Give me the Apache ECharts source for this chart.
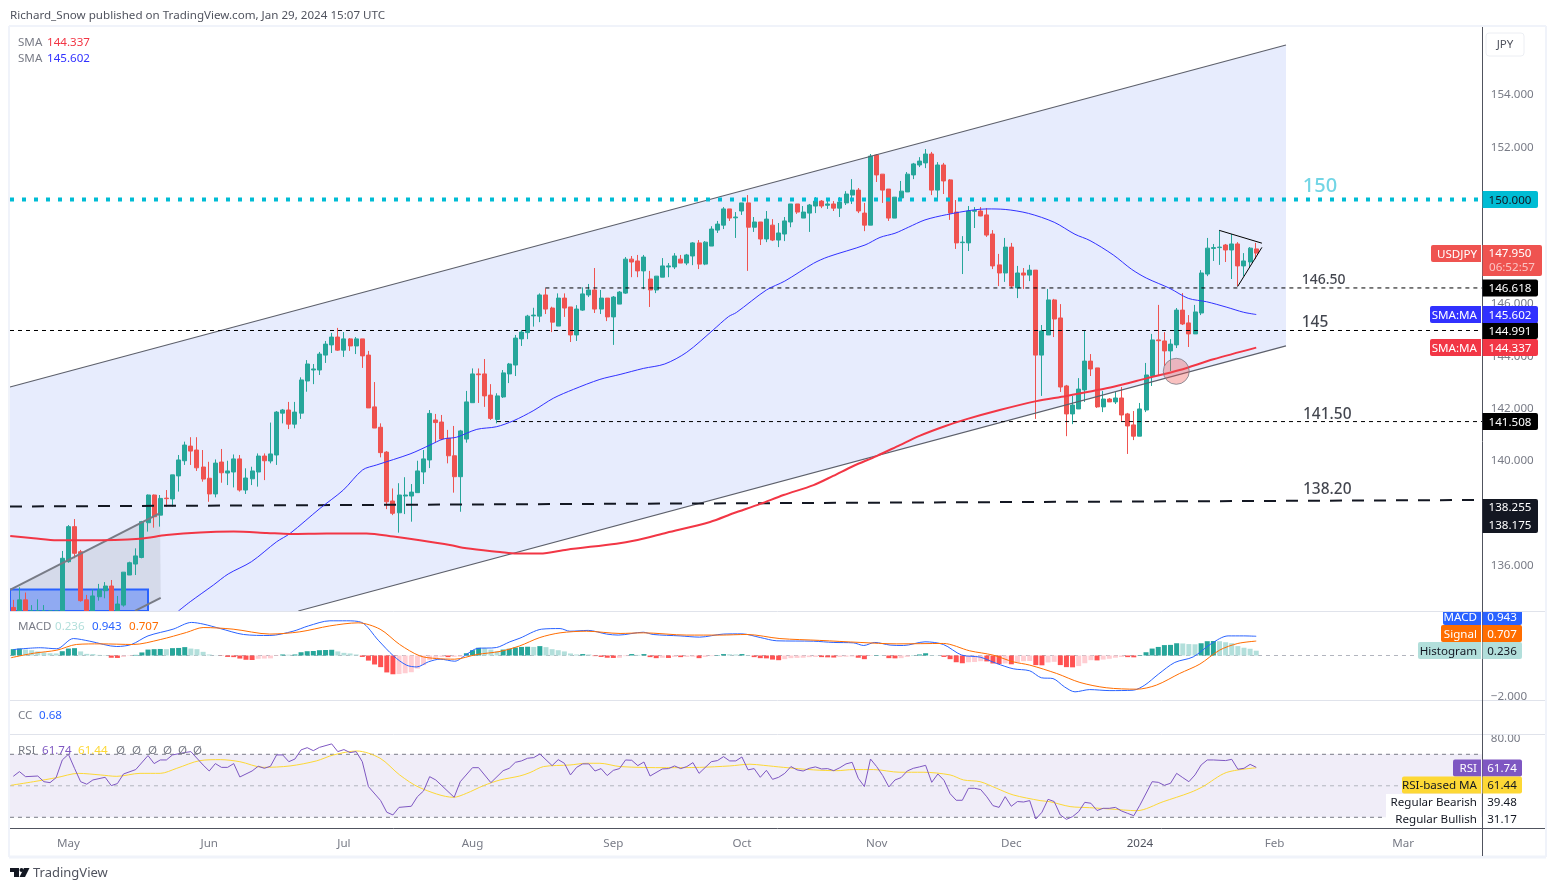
<!DOCTYPE html>
<html>
<head>
    <title>USDJPY daily</title>
    <script src="https://cdn.jsdelivr.net/npm/echarts@6/dist/echarts.min.js"></script>
    <style>
        html, body { margin: 0; padding: 0; background: #fff; overflow: hidden; }
        #chart { width: 1556px; height: 891px; }
    </style>
</head>
<body>
    <div id="chart"></div>
    <script>
        // daily candles
        const opens = [134.40,134.00,134.69,134.00,133.60,134.10,133.80,134.00,134.00,136.15,137.49,136.53,134.69,134.00,134.81,135.04,135.22,134.10,134.49,135.64,
            136.06,136.31,137.64,138.70,137.93,138.58,138.55,139.43,140.01,140.57,140.42,139.77,139.34,138.74,139.96,139.54,139.58,140.08,138.89,139.32,
            139.58,140.19,140.00,140.23,141.83,141.95,141.41,141.83,143.06,143.48,143.48,144.05,144.44,144.74,144.24,144.67,144.40,144.67,144.05,142.07,
            141.29,140.34,138.47,138.02,138.66,138.66,138.79,139.58,140.04,141.57,141.49,140.87,140.20,139.40,140.84,142.23,143.33,143.33,142.52,141.59,
            142.45,143.33,143.67,144.67,144.91,145.55,145.54,146.35,145.85,145.16,146.23,145.89,144.82,145.77,146.35,146.54,145.81,146.23,145.51,146.00,
            146.42,147.72,147.65,147.27,146.96,146.54,147.03,147.42,147.42,147.72,147.57,147.84,148.34,147.53,148.22,148.83,149.02,149.64,149.30,149.56,
            149.87,148.94,149.14,148.49,149.02,148.45,148.68,149.14,149.83,149.29,149.48,149.75,149.94,149.78,149.83,149.67,149.87,150.17,150.36,149.48,
            149.02,151.70,150.97,150.40,149.29,150.06,150.29,150.94,151.32,151.40,151.74,150.36,151.32,150.75,149.52,148.35,148.34,149.55,149.56,149.41,
            148.68,147.50,147.19,148.18,146.62,147.19,147.11,147.30,144.05,144.82,146.16,145.47,142.87,141.80,141.99,142.72,143.82,143.56,142.07,142.37,
            142.26,142.41,141.80,141.38,140.95,141.95,143.25,144.63,144.59,144.21,144.44,145.77,145.28,144.86,145.66,147.15,148.13,148.16,148.26,148.07,
            148.30,147.46,147.61,148.11];
        const closes = [134.20,134.69,133.90,133.70,134.10,133.80,134.10,134.20,136.28,137.49,136.47,134.66,134.00,134.84,135.07,135.22,134.10,134.53,135.75,136.11,
            136.37,137.68,138.70,137.87,138.57,138.56,139.47,140.04,140.61,140.38,139.74,139.31,138.74,139.92,139.55,139.62,140.08,138.89,139.35,139.62,
            140.19,140.01,140.27,141.87,141.95,141.41,141.87,143.10,143.71,143.52,144.09,144.47,144.74,144.24,144.67,144.40,144.67,144.02,142.03,141.26,
            140.32,138.44,138.00,138.70,138.70,138.81,139.62,140.08,141.82,141.47,140.84,140.20,139.40,141.15,142.26,143.33,143.30,142.49,141.63,142.49,
            143.37,143.71,144.70,144.93,145.54,145.58,146.35,145.81,145.31,146.23,145.85,144.82,145.81,146.39,146.54,145.81,146.23,145.51,146.27,146.46,
            147.72,147.61,147.27,147.80,146.54,147.07,147.46,147.46,147.84,147.57,147.88,148.34,147.53,148.37,148.87,149.06,149.64,149.29,149.33,149.87,
            148.94,149.14,148.49,149.25,148.45,148.72,149.18,149.83,149.52,149.52,149.79,149.94,149.75,149.83,149.67,149.90,150.21,150.36,149.56,149.02,
            151.66,150.94,150.36,149.29,150.09,150.32,150.97,151.36,151.47,151.74,150.36,151.32,150.71,149.48,148.34,148.37,149.56,149.58,149.37,148.64,
            147.46,147.19,148.18,146.69,147.19,147.11,147.30,144.05,144.97,146.16,145.43,142.83,141.80,142.14,142.75,143.82,143.52,142.07,142.37,142.26,
            142.41,141.76,141.34,140.95,141.99,143.29,144.63,144.60,144.21,144.47,145.77,145.24,144.86,145.70,147.19,148.14,148.16,148.18,148.07,148.30,
            147.46,147.65,148.14,147.95];
        const lows = [133.90,133.70,133.60,133.50,133.40,133.50,133.50,133.70,133.80,136.11,136.28,134.62,133.70,133.80,134.66,134.75,133.90,133.90,134.43,135.64,
            135.64,136.28,137.30,137.45,137.49,138.25,138.25,138.83,139.85,139.85,139.62,139.21,138.44,138.61,139.17,139.08,138.99,138.83,138.74,139.08,
            139.02,139.27,139.91,139.85,141.44,141.22,141.25,141.61,142.65,142.94,143.29,143.75,144.13,144.21,143.98,144.21,144.09,143.56,142.03,141.26,
            140.14,138.16,137.93,137.26,137.97,137.68,138.79,139.12,139.73,140.71,140.80,139.91,138.79,138.06,140.70,142.23,142.22,142.07,141.57,141.44,
            142.41,142.98,143.25,144.40,144.66,145.14,145.31,145.62,144.93,145.16,145.51,144.55,144.59,145.74,146.27,145.66,145.62,145.35,144.44,146.00,
            146.39,147.03,147.03,146.57,145.89,146.42,147.03,147.03,147.34,147.57,147.49,147.49,147.34,147.49,148.22,148.72,148.87,149.18,148.53,149.41,
            147.27,148.76,148.26,148.37,148.41,148.18,148.41,148.94,149.45,149.29,148.76,149.48,149.67,149.64,149.56,149.33,149.79,149.83,149.48,148.79,
            149.02,150.67,149.87,149.18,149.29,150.06,150.29,150.78,151.24,151.20,150.17,150.06,150.21,149.22,148.11,147.15,148.03,148.91,149.36,148.57,
            147.34,146.69,146.85,146.62,146.23,146.58,146.88,141.61,142.49,144.82,144.74,142.64,140.95,141.41,141.99,142.26,143.25,142.03,141.87,142.26,
            142.18,141.53,140.27,140.80,140.95,141.87,142.87,143.25,143.63,143.44,144.32,145.20,144.36,144.86,145.58,147.07,147.65,147.50,147.61,146.96,
            146.69,147.07,147.42,147.72];
        const highs = [134.69,135.17,134.97,134.49,134.71,134.49,134.20,134.25,136.56,137.55,137.78,136.60,134.88,135.10,135.30,135.37,135.45,134.84,135.75,136.15,
            136.66,137.71,138.72,138.72,138.70,138.89,139.47,140.23,140.74,140.91,140.91,140.42,139.97,140.06,140.46,140.01,140.25,140.23,139.72,139.78,
            140.29,140.29,141.47,141.91,141.99,142.26,142.26,143.20,143.86,143.71,144.17,144.59,144.90,145.09,144.93,144.70,144.74,144.67,144.21,143.02,
            141.44,140.38,138.95,139.15,139.38,139.12,140.01,140.42,141.95,141.80,141.76,141.19,141.34,141.19,142.68,143.54,143.54,143.90,142.94,142.59,
            143.48,143.75,144.82,145.01,145.59,145.86,146.41,146.60,145.90,146.41,146.41,145.89,145.96,146.64,146.77,147.38,146.54,146.23,146.31,146.50,
            147.80,147.84,147.88,147.88,147.27,147.07,147.76,147.57,147.95,147.88,147.92,148.37,148.45,148.41,148.98,149.18,149.71,149.64,149.52,149.87,
            150.17,149.33,149.14,149.56,149.25,149.10,149.33,149.83,149.83,149.75,149.83,150.09,149.98,149.98,149.94,150.09,150.32,150.78,150.44,149.87,
            151.74,151.74,150.97,150.40,150.09,150.71,151.05,151.40,151.62,151.93,151.82,151.43,151.40,150.78,149.98,148.60,149.75,149.71,149.71,149.67,
            148.83,147.92,148.53,148.34,147.46,147.38,147.50,147.30,145.20,146.58,146.20,146.00,142.91,142.49,143.17,144.97,144.09,143.56,142.68,142.41,
            142.64,142.83,141.84,141.91,142.22,143.75,144.86,145.97,144.93,144.66,145.85,146.42,145.58,145.97,147.30,148.53,148.30,148.82,148.30,148.68,
            148.37,147.95,148.18,148.34];

        // moving averages, [bar, value]
        const sma50 = [[26.95,134.26],[28.9,134.62],[32.7,135.26],[35.1,135.68],[38.9,136.15],[43,136.91],[45.2,137.23],[50.1,138.19],[53.9,138.89],[57.05,139.66],[59.35,139.85],[64.8,140.27],[68.05,140.61],[70.2,140.84],[72.4,140.91],[75.7,141.21],[78.9,141.31],[81.7,141.54],[84.9,141.92],[88.2,142.40],[91.5,142.74],[95.8,143.12],[99.1,143.31],[102.9,143.54],[106.4,143.71],[110,144.16],[114.3,145.01],[116.8,145.52],[118.1,145.68],[123,146.54],[126,146.88],[130.7,147.56],[133.1,147.81],[139.1,148.26],[141.55,148.55],[144,148.71],[146.2,148.94],[148.9,149.22],[152.4,149.42],[156.8,149.60],[159,149.64],[162,149.62],[165.8,149.47],[170,149.13],[173.4,148.67],[175.85,148.43],[179.65,147.88],[182.65,147.33],[185.1,146.99],[188.9,146.60],[191.9,146.22],[194.9,146.09],[198.2,145.88],[200.9,145.69],[203,145.602]];
        const sma200 = [[-0.5,137.13],[3.3,137.05],[7.1,136.97],[12,136.97],[20.7,137.03],[25,137.17],[30.5,137.27],[36,137.30],[41.4,137.25],[45.2,137.21],[51.2,137.23],[57.7,137.23],[62.1,137.11],[66.4,136.97],[71.3,136.79],[74,136.66],[79.5,136.52],[82.2,136.46],[86,136.46],[90.4,136.61],[98.5,136.84],[101.3,136.95],[106.7,137.26],[113.8,137.67],[117.6,138.00],[122,138.36],[125.8,138.70],[130.7,139.08],[133.9,139.43],[137.2,139.81],[141,140.19],[144.8,140.61],[148.1,140.97],[151.9,141.31],[155.7,141.60],[161.1,141.95],[167.1,142.29],[172,142.49],[179.7,142.84],[185.1,143.16],[190.5,143.48],[196,143.89],[203,144.337]];

        // MACD pane
        const macdHist = [.31,.34,.29,.26,.20,.15,.11,.10,.21,.34,.36,.20,.08,.07,.03,.02,-.11,-.12,-.07,-.02,.03,.15,.29,.31,.32,.31,.36,.37,.41,.34,.31,.18,.05,.01,-.01,-.07,-.08,-.15,-.21,-.22,-.16,-.15,-.14,-.02,.05,.04,.05,.16,.21,.22,.26,.27,.28,.20,.13,.10,.05,-.07,-.25,-.44,-.57,-.83,-.92,-.91,-.87,-.82,-.64,-.47,-.23,-.15,-.07,-.08,-.07,-.06,.11,.26,.38,.37,.29,.20,.29,.33,.39,.42,.43,.42,.46,.41,.31,.26,.20,.10,.05,.07,.05,-.03,-.07,-.11,-.12,-.11,-.03,.07,.03,.07,-.08,-.13,-.11,-.12,-.07,-.08,-.07,-.06,-.13,-.07,-.03,.02,.07,.06,.05,.07,.02,-.08,-.13,-.14,-.20,-.23,-.18,-.13,-.12,-.11,-.08,-.07,-.08,-.09,-.10,-.07,-.06,-.05,-.11,-.18,-.02,.02,.01,-.13,-.14,-.13,-.07,.01,.05,.11,.02,.01,-.07,-.18,-.33,-.38,-.33,-.32,-.28,-.29,-.39,-.42,-.39,-.43,-.33,-.28,-.27,-.47,-.48,-.34,-.31,-.47,-.57,-.58,-.52,-.38,-.23,-.24,-.20,-.16,-.11,-.07,-.08,-.09,.02,.16,.34,.42,.51,.52,.60,.59,.56,.55,.60,.70,.71,.70,.65,.60,.46,.38,.33,.236];
        const macdLine = [[0,.29],[4.4,.38],[7.1,.33],[9.8,.83],[12.5,.70],[16.9,.44],[19.3,.54],[22,.96],[26.1,1.29],[29.1,1.62],[31,1.54],[33.8,1.32],[37.6,1.03],[41.9,.98],[45.7,1.19],[48.2,1.45],[51.7,1.70],[54.4,1.70],[56.9,1.62],[59.6,.75],[62.1,-.02],[64.2,-.47],[65.9,-.56],[67.8,-.31],[69.7,-.18],[72.1,-.28],[74,.05],[75.7,.34],[78.9,.39],[81.1,.67],[82.75,.85],[86.3,1.29],[89.3,1.32],[90.9,1.19],[93.9,1.23],[96.9,1.05],[98.8,1.00],[102.9,1.14],[104.5,1.03],[108.9,.96],[112.1,.90],[116,1.05],[119,1.06],[122,.88],[124.7,.72],[130.7,.70],[133.9,.64],[137.2,.62],[138.9,.49],[140.7,.64],[143.2,.51],[145.4,.49],[148.9,.67],[151.9,.54],[154.9,.02],[157.9,-.08],[160.6,-.39],[163.3,-.65],[166,-.75],[167.9,-1.09],[169.8,-1.13],[171.7,-1.54],[173.4,-1.78],[175.8,-1.67],[179.1,-1.72],[182.9,-1.70],[184.8,-1.45],[187,-.92],[189.7,-.34],[192.7,-.07],[195.7,.59],[198.4,.96],[200.9,.96],[203,.943]];
        const macdSignal = [[-.4,-.11],[3.3,.11],[7.1,.26],[10.3,.54],[14.2,.57],[19.6,.54],[24,.78],[28.3,1.13],[31,1.37],[35.9,1.29],[41.9,1.05],[46.8,1.16],[51.7,1.45],[56.3,1.60],[59.9,1.29],[63.1,.54],[66.4,-.02],[69.1,-.15],[72.1,-.18],[75.7,.05],[79.5,.20],[82.7,.47],[86,.88],[89.3,1.11],[93.6,1.19],[99.1,1.08],[102.9,1.11],[110,1.00],[115.4,1.00],[119.8,1.03],[125.2,.83],[131.7,.74],[138.3,.64],[144.3,.57],[151.9,.59],[156.2,.23],[160,.02],[163.3,-.31],[166,-.47],[170.4,-.88],[174.2,-1.32],[178.5,-1.58],[183.5,-1.65],[186.7,-1.45],[190.5,-.88],[193.8,-.42],[197,.26],[200,.59],[203,.707]];

        // RSI pane
        const rsiLine = [[0,56.03],[1,59],[2,55.8],[4,56.2],[5,52.6],[6,52],[7,55.2],[8,66.4],[9,70],[10,61.1],[11,52.6],[12,51],[13,53.7],[15,55.4],[16,50.1],[17,51.4],[18,57.5],[20,60.3],[22,69.2],[23,64.1],[24,66.4],[25,66.4],[26,69.6],[28,71.1],[29,71.7],[31,63.2],[32,59.4],[33,64.1],[34,61.7],[35,61.7],[36,64.1],[37,55.6],[39,59.4],[40,62.4],[41,61.1],[42,62.4],[43,69.6],[44,69.6],[45,65.3],[46,67],[47,72.8],[48,74.2],[49,72.3],[50,74.4],[52,76.6],[53,71.7],[54,73],[55,71.1],[56,71.7],[57,65.3],[58,49.5],[60,40.6],[61,33.2],[62,31.5],[63,36.3],[65,37],[66,43.1],[67,46.7],[68,55.8],[69,53.7],[72,42.7],[73,52.6],[75,61.5],[76,61.5],[78,52],[80,59.6],[81,61.1],[82,64.9],[83,65.8],[84,67.5],[85,67.9],[86,70.2],[88,62.8],[89,66.6],[90,64.3],[91,56.9],[92,61.7],[93,63.9],[94,63.9],[95,59.4],[96,60.9],[97,56.5],[98,59.8],[99,60.9],[100,66.4],[101,66.2],[102,62.8],[103,65.1],[104,56.2],[106,60.7],[107,60.9],[108,62.6],[109,60.9],[110,62.2],[111,64.7],[112,57.9],[114,65.3],[115,66],[116,68.5],[117,65.8],[118,65.8],[119,68.3],[120,60.1],[121,60.9],[122,55.4],[123,59.8],[124,54.1],[125,55.4],[126,57.9],[127,62.2],[128,60.1],[129,59.4],[130,61.1],[131,62],[132,60.7],[133,60.9],[134,59.6],[135,61.5],[136,63.9],[137,64.9],[138,54.8],[139,49.5],[140,67],[141,62.2],[142,56.5],[143,49.3],[144,53.7],[145,55.2],[146,59.4],[147,61.1],[148,62],[149,63],[150,52.2],[151,57.5],[152,53.5],[153,45],[154,40.8],[155,40.8],[156,48.4],[157,48.4],[158,47.6],[159,43],[160,37.4],[161,36.3],[162,43.1],[163,37],[164,40],[165,39.7],[166,40.6],[167,28.9],[168,33.2],[169,41.4],[170,40],[171,31.5],[172,28.7],[173,30.4],[174,33.6],[175,39.5],[176,38.9],[177,34.3],[178,35.7],[179,35.7],[180,36.3],[181,34],[182,32.5],[183,31],[184,37.7],[186,52.6],[187,52.2],[188,50.3],[189,51.6],[190,57.9],[191,55.2],[192,52.6],[193,56.9],[194,63.2],[195,66.4],[196,66.4],[198,66],[199,66.8],[200,60.5],[201,61.1],[202,63.6],[203,61.74]];
        const rsiMa = [[-.4,50.3],[3.3,52.6],[7.1,55.2],[10.6,57.9],[14.2,56.9],[16.9,56],[20.7,57.9],[24,57.9],[26.7,61.1],[30.5,66],[33.8,66.6],[37,65.3],[40.8,61.7],[45.2,62.6],[49.5,65.8],[52.3,69.6],[56.1,72.1],[59.9,67.5],[63.1,56.9],[66.4,48.8],[71.9,42.7],[74,45.2],[76.8,50.1],[79.5,53.7],[82.7,56.2],[84.4,58.4],[86.6,62.2],[90.9,63.2],[93.6,64.3],[95.8,64.3],[99.1,62.2],[106.7,61.5],[112.1,61.7],[117,62.6],[120.3,63.7],[122.5,63],[125.8,61.7],[130.7,60.1],[134.5,59.6],[137.2,60.3],[140.5,60.3],[144.8,58.6],[148.6,58.6],[153,56.9],[155.2,53.7],[157.9,52.6],[160.6,48.4],[163.3,44.2],[167.7,40.6],[169.3,39.9],[172.6,36.8],[175.8,36.1],[179.1,35.3],[183.5,34.2],[187.8,39.9],[192.2,45.7],[194.3,49.5],[198.1,58.4],[203,61.44]];

        // drawings on the price pane, [bar, price]
        const channelShape = [[-.54,142.83],[207.86,155.91],[207.86,144.40],[46.55,134.265],[-.54,134.265]];
        const channelTop = [[-.54,142.83],[207.86,155.91]];
        const channelBottom = [[46.55,134.265],[207.86,144.40]];
        const smallChannelShape = [[-.54,135.07],[23.96,138.01],[24.07,134.77],[19.88,134.265],[-.54,134.265]];
        const smallChannelTop = [[-.54,135.07],[23.96,138.01]];
        const smallChannelBottom = [[19.88,134.265],[24.07,134.77]];
        const blueBox = [[-.54,135.09],[22,135.09],[22,134.265],[-.54,134.265]];
        const level150 = [[-.54,150],[239.86,150]];
        const level14650 = [[86.9,146.618],[239.86,146.618]];
        const level145 = [[-.54,144.991],[239.86,144.991]];
        const level14150 = [[79,141.508],[239.86,141.508]];
        const level13820 = [[-.54,138.26],[239.86,138.51]];
        const pennantTop = [[196.96,148.82],[203.93,148.33]];
        const pennantBottom = [[199.96,146.67],[203.93,148.17]];
        const touchCircle = [[189.94,143.43]];
        const levelNotes = [[213.4,150.55,'150'],[214.0,146.96,'146.50'],[212.6,145.32,'145'],[214.6,141.80,'141.50'],[214.6,138.93,'138.20']];

        // RSI bands and zero line
        const rsiBand = [[-.54,70],[239.86,70],[239.86,30],[-.54,30]];
        const rsiUpper = [[-.54,70],[239.86,70]];
        const rsiMiddle = [[-.54,50],[239.86,50]];
        const rsiLower = [[-.54,30],[239.86,30]];
        const macdZero = [[-.54,0],[239.86,0]];

        // time axis
        const barCount = 241;
        const monthBars = [9,32,54,75,98,119,141,163,184,206,227];
        const monthNames = ['May','Jun','Jul','Aug','Sep','Oct','Nov','Dec','2024','Feb','Mar'];
        const categories = [];
        for (let i = 0; i < barCount; i++) {
            const m = monthBars.indexOf(i);
            categories.push(m >= 0 ? monthNames[m] : String(i));
        }

        const FONT = '"Noto Sans", sans-serif';
        const SIZE = 11.6;
        const GREY = '#787b86';
        const PRICE_MIN = 134.264;
        const chart = echarts.init(document.getElementById('chart'));

        const gridX = { left: 10.24, width: 1475.6 };

        function lineSeries(points, axis, color, width, type, extra) {
            return Object.assign({
                type: 'line',
                xAxisIndex: axis * 2 + 1,
                yAxisIndex: axis,
                data: points,
                symbol: 'none',
                silent: true,
                z: 6,
                lineStyle: { color: color, width: width, type: type || 'solid' }
            }, extra || {});
        }

        function shapeSeries(points, axis, fill, stroke, z) {
            return {
                type: 'custom',
                xAxisIndex: axis * 2 + 1,
                yAxisIndex: axis,
                data: [points[0]],
                silent: true,
                z: z,
                renderItem: function (params, api) {
                    return {
                        type: 'polygon',
                        shape: { points: points.map(function (p) { return api.coord(p); }) },
                        style: { fill: fill, stroke: stroke || null, lineWidth: 2 }
                    };
                }
            };
        }

        const axisLabelBase = { margin: 5, color: GREY, fontSize: SIZE, fontFamily: FONT, padding: [2, 0, 0, 0] };

        const option = {
            animation: false,
            textStyle: { fontFamily: FONT },
            grid: [
                Object.assign({ top: 27, height: 584 }, gridX),
                Object.assign({ top: 611, height: 89 }, gridX),
                Object.assign({ top: 735, height: 93 }, gridX)
            ],
            xAxis: [
                { type: 'category', gridIndex: 0, data: categories, show: false },
                { type: 'value', gridIndex: 0, min: -0.5, max: barCount - 0.5, show: false },
                { type: 'category', gridIndex: 1, data: categories, show: false },
                { type: 'value', gridIndex: 1, min: -0.5, max: barCount - 0.5, show: false },
                {
                    type: 'category', gridIndex: 2, data: categories,
                    axisLine: { show: false }, axisTick: { show: false },
                    axisLabel: {
                        margin: 6,
                        fontSize: SIZE,
                        fontFamily: FONT,
                        color: function (v) { return v === '2024' ? '#50535e' : GREY; },
                        interval: function (index) { return monthBars.indexOf(index) >= 0; }
                    }
                },
                { type: 'value', gridIndex: 2, min: -0.5, max: barCount - 0.5, show: false }
            ],
            yAxis: [
                {
                    type: 'value', gridIndex: 0, position: 'right', min: PRICE_MIN, max: 156.597,
                    axisLine: { show: false }, axisTick: { show: false }, splitLine: { show: false },
                    axisLabel: Object.assign({
                        customValues: [136,138,140,142,144,146,148,150,152,154],
                        formatter: function (v) { return v.toFixed(3); }
                    }, axisLabelBase)
                },
                {
                    type: 'value', gridIndex: 1, position: 'right', min: -2.18, max: 2.18,
                    axisLine: { show: false }, axisTick: { show: false }, splitLine: { show: false },
                    axisLabel: Object.assign({
                        customValues: [-2,0],
                        formatter: function (v) { return v.toFixed(3).replace('-', '\u2212'); }
                    }, axisLabelBase)
                },
                {
                    type: 'value', gridIndex: 2, position: 'right', min: 23.2, max: 82.25,
                    axisLine: { show: false }, axisTick: { show: false }, splitLine: { show: false },
                    axisLabel: Object.assign({
                        customValues: [80],
                        formatter: function (v) { return v.toFixed(2); }
                    }, axisLabelBase)
                }
            ],
            series: [
                shapeSeries(channelShape, 0, '#e7ecfd', null, 1),
                shapeSeries(smallChannelShape, 0, 'rgba(120,123,134,0.16)', null, 2),
                shapeSeries(blueBox, 0, 'rgba(41,98,255,0.4)', '#2962ff', 2),
                {
                    type: 'candlestick',
                    xAxisIndex: 0,
                    yAxisIndex: 0,
                    barWidth: 4.5,
                    z: 5,
                    silent: true,
                    // the first bars run below the pane in the picture, so stop them at its floor
                    data: opens.map(function (o, i) {
                        return [o, closes[i], lows[i], highs[i]].map(function (v) { return Math.max(v, PRICE_MIN); });
                    }),
                    itemStyle: { color: '#26a69a', color0: '#ef5350', borderColor: '#26a69a', borderColor0: '#ef5350', borderWidth: 1 }
                },
                lineSeries(channelTop, 0, '#5d606b', 1.2),
                lineSeries(channelBottom, 0, '#5d606b', 1.2),
                lineSeries(smallChannelTop, 0, '#787b86', 2),
                lineSeries(smallChannelBottom, 0, '#787b86', 2),
                lineSeries(level150, 0, '#00bcd4', 4, [4, 8]),
                lineSeries(level14650, 0, '#000000', 1, [4, 4]),
                lineSeries(level145, 0, '#000000', 1, [4, 4]),
                lineSeries(level14150, 0, '#000000', 1, [4, 4]),
                lineSeries(level13820, 0, '#131722', 2, [12, 10]),
                lineSeries(pennantTop, 0, '#000000', 1),
                lineSeries(pennantBottom, 0, '#000000', 1),
                lineSeries(sma50, 0, '#3131ff', 1, 'solid', { smooth: 0.3 }),
                lineSeries(sma200, 0, '#f23645', 2, 'solid', { smooth: 0.3 }),
                {
                    type: 'scatter',
                    xAxisIndex: 1,
                    yAxisIndex: 0,
                    data: touchCircle,
                    symbolSize: 26,
                    silent: true,
                    z: 8,
                    itemStyle: { color: 'rgba(239,83,80,0.45)', borderColor: '#787b86', borderWidth: 1 }
                },
                {
                    type: 'scatter',
                    xAxisIndex: 1,
                    yAxisIndex: 0,
                    data: levelNotes,
                    symbolSize: 1,
                    silent: true,
                    z: 8,
                    itemStyle: { color: 'transparent' },
                    label: {
                        show: true,
                        position: 'inside',
                        fontFamily: FONT,
                        fontSize: 15,
                        color: '#131722',
                        padding: [2, 0, 0, 0],
                        formatter: function (p) {
                            if (p.data[2] === '150') return '{big|150}';
                            return p.data[2] === '146.50' ? '{mid|146.50}' : '{large|' + p.data[2] + '}';
                        },
                        rich: {
                            big: { fontSize: 20, fontWeight: 500, color: '#4fcbdf', fontFamily: FONT },
                            mid: { fontSize: 14, fontWeight: 500, color: '#131722', fontFamily: FONT },
                            large: { fontSize: 15.5, fontWeight: 500, color: '#131722', fontFamily: FONT }
                        }
                    }
                },

                lineSeries(macdZero, 1, '#b2b5be', 1, [4, 4], { z: 1 }),
                {
                    type: 'bar',
                    xAxisIndex: 2,
                    yAxisIndex: 1,
                    barWidth: 5,
                    silent: true,
                    z: 3,
                    data: macdHist,
                    itemStyle: {
                        color: function (p) {
                            const prev = p.dataIndex ? macdHist[p.dataIndex - 1] : 0;
                            if (p.value >= 0) return p.value >= prev ? '#26a69a' : '#b2dfdb';
                            return p.value <= prev ? '#ff5252' : '#ffcdd2';
                        }
                    }
                },
                lineSeries(macdLine, 1, '#2962ff', 1, 'solid', { smooth: 0.3 }),
                lineSeries(macdSignal, 1, '#ff6d00', 1, 'solid', { smooth: 0.3 }),

                shapeSeries(rsiBand, 2, '#f0edf8', null, 1),
                lineSeries(rsiUpper, 2, '#787b86', 1, [4, 4], { z: 2 }),
                lineSeries(rsiMiddle, 2, '#b2b5be', 1, [4, 4], { z: 2 }),
                lineSeries(rsiLower, 2, '#787b86', 1, [4, 4], { z: 2 }),
                lineSeries(rsiMa, 2, '#fdd835', 1, 'solid', { smooth: 0.3 }),
                lineSeries(rsiLine, 2, '#7e57c2', 1)
            ]
        };

        chart.setOption(option);

        // page frame, pane legends and price tags
        function label(x, y, text, color, align, size) {
            return {
                type: 'text', z: 100, silent: true,
                style: {
                    x: x, y: y + 1, text: text, fill: color || '#50535e',
                    font: (size || SIZE) + 'px ' + FONT,
                    textAlign: align || 'left', textVerticalAlign: 'middle'
                }
            };
        }

        function box(x0, y0, x1, y1, fill, r, z) {
            return {
                type: 'rect', z: z === undefined ? 99 : z, silent: true,
                shape: { x: x0, y: y0, width: x1 - x0, height: y1 - y0, r: r || 0 },
                style: { fill: fill }
            };
        }

        function rule(x0, y0, x1, y1, color, width) {
            return {
                type: 'line', z: 90, silent: true,
                shape: { x1: x0, y1: y0, x2: x1, y2: y1 },
                style: { stroke: color, lineWidth: width || 1 }
            };
        }

        function valueTag(cy, value, bg, fg) {
            return [box(1482.5, cy - 8.5, 1538, cy + 8.5, bg, [0, 2, 2, 0]), label(1510, cy, value, fg || '#fff', 'center')];
        }

        function nameTag(cy, name, x0, bg, fg) {
            return [box(x0, cy - 8.5, 1481, cy + 8.5, bg, [2, 0, 0, 2]), label(1477, cy, name, fg || '#fff', 'right')];
        }

        function yOf(p) { return chart.convertToPixel({ yAxisIndex: 0 }, p); }

        const elements = [];
        elements.push(
            rule(9, 26, 1546, 26, '#f0f3fa', 2),
            rule(9, 26, 9, 857, '#f0f3fa', 2),
            rule(1546, 26, 1546, 857, '#f0f3fa', 2),
            rule(9, 857, 1546, 857, '#f0f3fa', 3),
            rule(10, 611.5, 1545, 611.5, '#e0e3eb'),
            rule(10, 700.5, 1545, 700.5, '#e0e3eb'),
            rule(10, 734.5, 1545, 734.5, '#e0e3eb'),
            rule(10, 828.5, 1545, 828.5, '#50535e'),
            rule(1482.5, 27, 1482.5, 856, '#50535e')
        );

        elements.push(label(10, 14.5, 'Richard_Snow published on TradingView.com, Jan 29, 2024 15:07 UTC', '#50535e'));
        elements.push(
            label(18, 41.5, 'SMA', '#787b86'), label(47, 41.5, '144.337', '#f23645'),
            label(18, 58, 'SMA', '#787b86'), label(47, 58, '145.602', '#3131ff'),
            label(18, 626, 'MACD', '#787b86'), label(55, 626, '0.236', '#b2dfdb'), label(92, 626, '0.943', '#2962ff'), label(129, 626, '0.707', '#ff6d00'),
            label(18, 715, 'CC', '#787b86'), label(39, 715, '0.68', '#2962ff'),
            label(18, 749.5, 'RSI', '#787b86'), label(42, 749.5, '61.74', '#7e57c2'), label(78, 749.5, '61.44', '#fdd835')
        );
        [116, 132, 148, 163, 178, 193].forEach(function (x) {
            elements.push(label(x, 749.5, '\u00d8', '#787b86'));
        });

        // JPY currency button
        elements.push({
            type: 'rect', z: 95, silent: true,
            shape: { x: 1486, y: 33, width: 38, height: 23, r: 3 },
            style: { fill: '#fff', stroke: '#eceef3' }
        });
        elements.push(label(1505, 43.5, 'JPY', '#50535e', 'center'));

        // price tags
        elements.push(...valueTag(yOf(150), '150.000', '#00bcd4', '#131722'));
        elements.push(...valueTag(yOf(146.618), '146.618', '#000'));
        elements.push(...valueTag(yOf(144.991), '144.991', '#000'));
        elements.push(...valueTag(yOf(141.508), '141.508', '#000'));
        elements.push(...nameTag(yOf(145.602), 'SMA:MA', 1430, '#3131ff'));
        elements.push(...valueTag(yOf(145.602), '145.602', '#3131ff'));
        elements.push(...nameTag(yOf(144.337), 'SMA:MA', 1430, '#f23645'));
        elements.push(...valueTag(yOf(144.337), '144.337', '#f23645'));
        elements.push(box(1482.5, 245, 1542, 276, '#ef5350', [0, 2, 2, 0]));
        elements.push(label(1510, 253, '147.950', '#fff', 'center'), label(1512, 267, '06:52:57', '#fbc4c3', 'center'));
        elements.push(...nameTag(253.5, 'USDJPY', 1431, '#ef5350'));
        elements.push(box(1482.5, 499, 1538, 533, '#131722', [0, 2, 2, 0]));
        elements.push(label(1510, 507, '138.255', '#fff', 'center'), label(1510, 524.5, '138.175', '#fff', 'center'));

        // indicator tags
        function indicatorValue(cy, value, bg, fg) {
            return [box(1482.5, cy - 8.5, 1522, cy + 8.5, bg, [0, 2, 2, 0]), label(1502, cy, value, fg || '#fff', 'center')];
        }
        elements.push(box(1443, 612, 1481, 625, '#2962ff', [0, 0, 0, 2]), label(1477, 616.5, 'MACD', '#fff', 'right'));
        elements.push(box(1482.5, 612, 1522, 625, '#2962ff', [0, 0, 2, 0]), label(1502, 616.5, '0.943', '#fff', 'center'));
        elements.push(...nameTag(633.5, 'Signal', 1441, '#ff6d00'));
        elements.push(...indicatorValue(633.5, '0.707', '#ff6d00'));
        elements.push(...nameTag(650.5, 'Histogram', 1418, '#b2dfdb', '#131722'));
        elements.push(...indicatorValue(650.5, '0.236', '#b2dfdb', '#131722'));
        elements.push(...nameTag(768, 'RSI', 1453, '#7e57c2'));
        elements.push(...indicatorValue(768, '61.74', '#7e57c2'));
        elements.push(...nameTag(785, 'RSI-based MA', 1402, '#fdd835', '#131722'));
        elements.push(...indicatorValue(785, '61.44', '#fdd835', '#131722'));
        elements.push(box(1386, 794, 1481, 827.5, '#fff'));
        elements.push(label(1477, 801.5, 'Regular Bearish', '#131722', 'right'), label(1502, 801.5, '39.48', '#131722', 'center'));
        elements.push(label(1477, 818.5, 'Regular Bullish', '#131722', 'right'), label(1502, 818.5, '31.17', '#131722', 'center'));

        // TradingView wordmark
        elements.push(
            box(10, 868, 19, 872, '#131722', 0, 95),
            box(14, 868, 19, 877, '#131722', 0, 95),
            { type: 'circle', z: 95, silent: true, shape: { cx: 21.5, cy: 870, r: 2 }, style: { fill: '#131722' } },
            { type: 'polygon', z: 95, silent: true, shape: { points: [[24, 868], [29.5, 868], [25, 877], [19.5, 877]] }, style: { fill: '#131722' } },
            label(33, 872.5, 'TradingView', '#50535e', 'left', 13)
        );

        chart.setOption({ graphic: { elements: elements } });
    </script>
</body>
</html>
